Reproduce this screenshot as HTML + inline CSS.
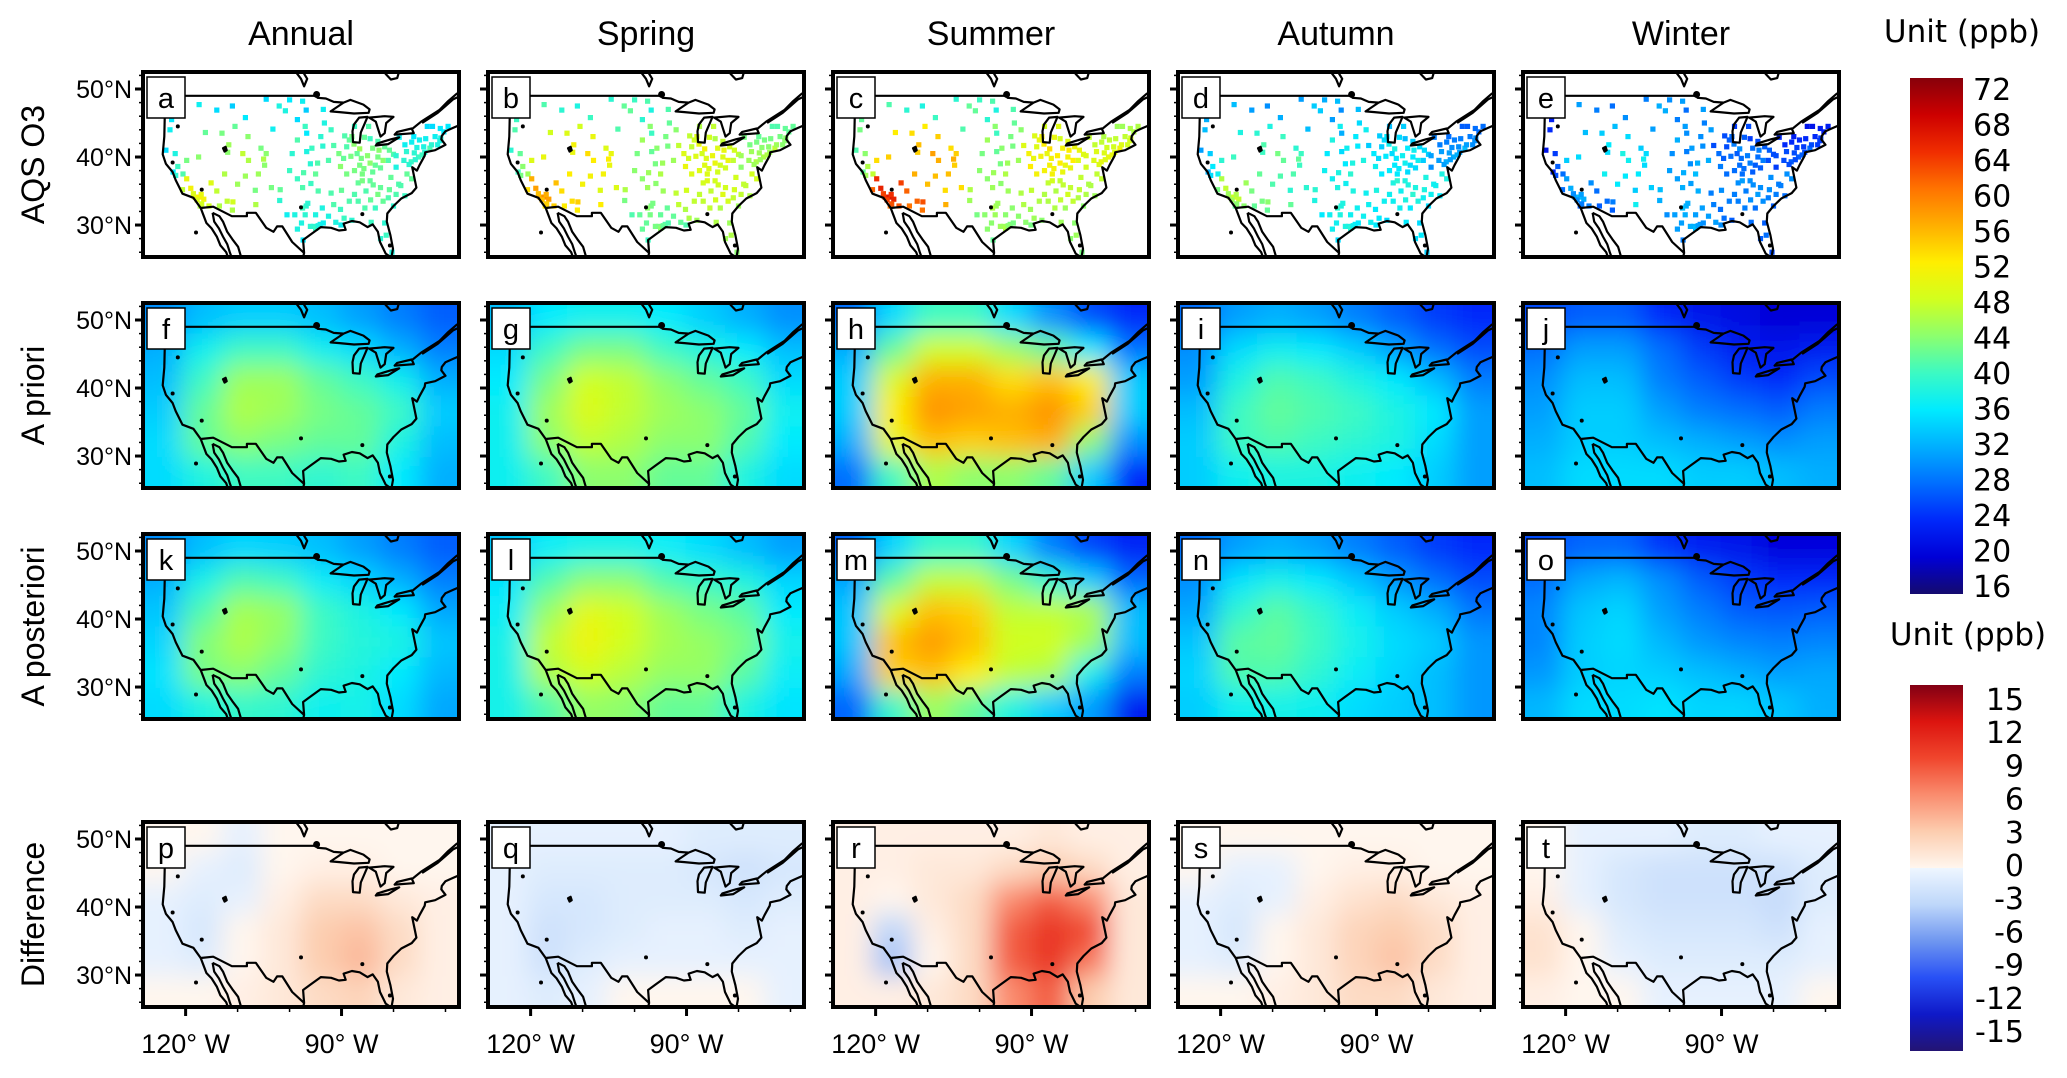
<!DOCTYPE html>
<html><head><meta charset="utf-8"><title>O3 seasonal maps</title>
<style>
html,body{margin:0;padding:0;background:#fff;}
body{width:2067px;height:1073px;overflow:hidden;font-family:"Liberation Sans",Arial,sans-serif;}
svg text{font-family:"Liberation Sans",Arial,sans-serif;fill:#000;}
svg text.cb{font-family:"DejaVu Sans","Liberation Sans",sans-serif;}
</style></head>
<body>
<svg id="fig" xmlns="http://www.w3.org/2000/svg" width="2067" height="1073" viewBox="0 0 2067 1073">
<defs>
<filter id="blur" x="-20%" y="-20%" width="140%" height="140%"><feGaussianBlur stdDeviation="13"/></filter>
<linearGradient id="jetGrad" x1="0" y1="1" x2="0" y2="0"></linearGradient>
<linearGradient id="diffGrad" x1="0" y1="1" x2="0" y2="0"></linearGradient>
</defs>
<g id="panels"></g>
<g id="legend"></g>
</svg>
<script>
// ---------- data ----------
const seasons = ["Annual","Spring","Summer","Autumn","Winter"];
const rowTitles = ["AQS O3","A priori","A posteriori","Difference"];
const panelLetters = [["a","b","c","d","e"],["f","g","h","i","j"],["k","l","m","n","o"],["p","q","r","s","t"]];
const latTicks = [50,40,30];
const lonTicks = [-120,-90];
const lonTickLabels = ["120° W","90° W"];
const jetTicks = [72,68,64,60,56,52,48,44,40,36,32,28,24,20,16];
const diffTicks = [15,12,9,6,3,0,-3,-6,-9,-12,-15];

// a priori fields (ppb), 6 lat bands (north->south) x 8 lon bands (west->east)
const priorAnnual = [
 [30,33,34,34,33,31,29,27],
 [32,37,40,40,37,35,32,29],
 [33,40,45,45,42,40,37,32],
 [34,42,46,45,43,42,40,34],
 [35,42,44,43,42,42,38,33],
 [35,38,40,40,39,40,36,32]];
const priorSpring = [
 [33,36,37,37,36,34,32,30],
 [35,40,43,43,40,38,36,33],
 [36,43,48,47,44,42,40,35],
 [37,45,49,47,45,44,42,37],
 [37,44,47,46,44,44,41,36],
 [37,40,44,44,42,42,38,35]];
const priorSummer = [
 [28,35,40,40,35,30,26,24],
 [32,42,48,48,45,42,36,28],
 [34,49,56,56,53,55,52,34],
 [34,52,58,57,56,58,54,34],
 [32,50,55,54,55,56,44,30],
 [28,40,46,44,44,42,34,24]];
const priorAutumn = [
 [28,31,32,31,29,27,25,24],
 [30,35,37,36,34,31,28,26],
 [31,38,41,40,38,36,33,29],
 [33,40,42,41,40,38,36,31],
 [34,40,41,40,39,38,35,31],
 [34,37,38,38,37,36,34,31]];
const priorWinter = [
 [26,27,27,24,22,21,20,20],
 [28,31,31,28,25,23,22,23],
 [30,33,33,29,27,25,24,26],
 [31,34,34,31,29,28,27,29],
 [32,34,34,33,32,31,30,31],
 [33,35,35,35,34,34,33,32]];

// difference = prior minus posterior (ppb)
const diffAnnual = [
 [0,0,-0.5,0,0,0,0,0],
 [0,-0.5,-1,0,0.5,0.5,0,0],
 [-0.5,-1,-0.5,0.5,2,2,1,0.5],
 [-0.5,-1.5,0,1,3,3.5,2,0.5],
 [-0.5,-1,0,1,3,4,2,0.5],
 [0,0,0.5,1,2,2.5,1,0.5]];
const diffSpring = [
 [-0.5,-0.5,-0.5,-0.5,-0.5,-1,-1,-1],
 [-0.5,-1,-1,-1,-1,-1.5,-2,-1.5],
 [-0.5,-1.5,-1.5,-1,-1,-1,-1.5,-1],
 [-0.5,-2,-1.5,-1,-0.5,-0.5,-1,-0.5],
 [-0.5,-2,-1,-0.5,-0.5,-0.5,-0.5,-0.5],
 [-0.5,-1,-0.5,0,0,0,0,-0.5]];
const diffSummer = [
 [0.5,0.5,0.5,0.5,0.5,1,0.5,0.5],
 [0.5,0.5,1,1,2,3,2,0.5],
 [0.5,0,1,2,6,8,6,1],
 [0.5,-3,0.5,2,8,10,9,1],
 [0.5,-4,0,2,8,10,7,1],
 [0.5,0.5,1,2,6,8,3,1]];
const diffAutumn = [
 [0,0,0,0,0,0,0,0],
 [0,-0.5,-0.5,0,0.5,0.5,0,0],
 [-0.5,-1,-0.5,0.5,1.5,2,1,0.5],
 [-0.5,-1.5,0,1,2.5,3,2,0.5],
 [-0.5,-1,0,1,2.5,3.5,2,0.5],
 [0,0,0.5,1,2,2,1,0.5]];
const diffWinter = [
 [0,-0.5,-0.5,-0.5,-1,-1,-0.5,-0.5],
 [0,-0.5,-1.5,-2,-2,-2,-2,-1],
 [0.5,-0.5,-1.5,-2,-2,-2,-2.5,-1],
 [1.5,0,-1,-1.5,-1.5,-1.5,-2,-0.5],
 [1.5,0,-0.5,-1,-1,-1,-1,-0.5],
 [0.5,0,0,-0.5,-0.5,-0.5,-0.5,0]];

// AQS site regional means per season [Annual,Spring,Summer,Autumn,Winter]
const regionMeans = [
 [36,40,40,32,30],
 [38,42,44,34,25],
 [48,54,62,44,29],
 [44,50,54,40,35],
 [40,44,44,37,31],
 [42,48,50,35,27],
 [38,44,48,30,25],
 [41,47,46,37,29],
 [38,42,44,37,31]];
// sites: [lon, lat, offset]
const sitesNorth = [[-117.4,47.7,1],[-114,46.9,-1],[-108.5,45.8,0],[-100.8,46.8,2],[-96.8,46.9,-2],[-103.2,44.1,1],[-96.7,43.5,0],[-104.5,48.5,-1],[-97.5,48.2,1],[-100,48.4,0],[-111,47.5,-2],[-93.5,47,1],[-98.5,45.5,-1],[-102,47.5,2]];
const sitesCoast = [[-122.3,47.5,-3],[-122.7,45.5,-2],[-123,44,-1],[-122.4,37.8,-2],[-121.9,37.3,1],[-121.5,38.6,2],[-123.8,41,-3],[-122,40.5,0],[-120.5,37.5,3]];
const sitesSW = [[-118.2,34.1,2],[-117.4,34.1,4],[-117.2,32.8,-2],[-116.5,33.8,3],[-119,35.4,3],[-118.5,34.6,1],[-117,34.5,2],[-115.5,32.8,0],[-112,33.5,-1],[-111,32.2,-2],[-110.9,33.4,0],[-114,35,-1],[-115.1,36.2,1],[-119.8,36.8,2],[-117.8,33.7,1],[-116.9,33.1,0],[-120.6,35.2,-1],[-113.5,32.8,-2]];
const sitesMountain = [[-111.9,40.7,0],[-111.7,41.8,1],[-105,39.7,2],[-104.8,38.8,0],[-106.6,35.1,-1],[-108.5,37.2,1],[-107.9,39.5,2],[-105.5,41.3,-1],[-108,43,0],[-110.5,44.5,-2],[-113,43.5,-1],[-116.2,43.6,-2],[-117.5,40,0],[-119.8,39.5,-1],[-109,40.5,3],[-106,37.5,1],[-112.5,37.5,2],[-110,36,1],[-104.5,40.5,0],[-106.5,33,2],[-103.5,35.5,-1]];
const sitesPlains = [[-97.5,35.5,1],[-95.9,36.1,0],[-97.3,37.7,1],[-96,39,-1],[-95.7,41.3,0],[-96.7,40.8,-2],[-98.5,42.5,1],[-101.8,35.2,2],[-100,38,0],[-94.6,39.1,1],[-93.6,41.6,-1],[-93.3,45,-2],[-92,44,0],[-94,43,-1],[-95,37.5,2],[-98.5,36.8,0],[-94.5,35,1],[-99.5,40.5,-1],[-97,44.5,0],[-92.5,39.5,1]];
const sitesMidwest = [[-87.6,41.9,2],[-88,43,1],[-89.4,43.1,-1],[-86.2,39.8,1],[-84.5,39.1,2],[-83,40,1],[-81.7,41.5,0],[-80,40.4,-1],[-85.7,38.3,1],[-90.2,38.6,2],[-89.6,39.8,0],[-83,42.3,-1],[-85.6,42.9,0],[-87.5,38,1],[-84.5,42.7,-2],[-82.5,38.4,0],[-88.2,40.1,1],[-91.5,41.7,-1],[-86.5,41.2,3],[-84,41.3,1],[-82,39.5,2],[-80.8,41,0],[-87,40.5,0],[-85,40.2,2],[-89,41.5,-1],[-90.5,40.5,1],[-83.5,38.8,0],[-86,37.5,1],[-88.5,42.5,0],[-81,39.5,-1],[-84,37.8,0],[-89,37.5,1],[-87.5,44.5,-2],[-84.8,44.5,-1],[-82.8,41,2],[-86.5,38.8,1]];
const sitesNE = [[-75.2,40,2],[-74,40.7,1],[-73,41.3,3],[-71.1,42.4,0],[-72.7,41.8,1],[-76.6,39.3,2],[-77,38.9,1],[-78.9,42.9,-1],[-76.1,43,-2],[-73.8,42.7,-1],[-70.3,43.7,-2],[-72.5,44.5,-3],[-75.5,41.4,0],[-77.5,40.8,1],[-79.5,38.5,0],[-69.5,44.5,-2],[-74.5,40.3,2],[-75.8,39.6,1],[-71.5,41.8,0],[-72,43,-1],[-76.5,42.2,-1],[-78,39.5,1],[-74.2,41.5,0],[-79.5,40.2,1],[-77.8,41.8,-1],[-71,44.2,-2],[-73.5,44.5,-3],[-76,40.6,1],[-75,42.5,-1],[-70.9,42.8,0]];
const sitesSE = [[-84.4,33.7,1],[-86.8,33.5,0],[-90.2,32.3,-1],[-86.8,36.2,1],[-85.3,35,0],[-83.9,35.9,1],[-80.8,35.2,1],[-78.6,35.8,0],[-77.4,37.5,1],[-81,34,0],[-80,32.8,-2],[-81.7,30.3,-2],[-82.5,28,-2],[-80.3,26,-3],[-84.3,30.4,-1],[-88,30.7,-2],[-92,34.7,0],[-90,35.1,1],[-81.4,28.5,-1],[-79,36,0],[-87.5,34.5,0],[-82.5,35.5,1],[-85.5,32.5,0],[-83.5,32.5,-1],[-80.5,37,1],[-79.5,34.5,0],[-82,33.5,1],[-88.5,33.5,0],[-89.5,31,-1],[-91.5,33,0],[-77.8,34.3,-1],[-76.5,36.8,1],[-86,36.5,2],[-84.5,36.5,1],[-83,34.5,2]];
const sitesTexas = [[-95.4,29.8,1],[-96.8,32.8,1],[-97.7,30.3,0],[-98.5,29.4,0],[-94.1,30.1,-1],[-101.9,33.6,1],[-97.4,27.8,-2],[-93.7,32.5,0],[-91.1,30.4,0],[-90.1,30,-1],[-95,31.5,0],[-97,31.5,1],[-99,31.5,0],[-95,29.5,2],[-96,29.8,1],[-94.5,29.9,0],[-97.5,32.5,2],[-96.5,33.2,1],[-93.5,30.3,-1],[-92.5,31.3,0],[-100.5,31.5,-1]];
const siteGroups = [sitesNorth,sitesCoast,sitesSW,sitesMountain,sitesPlains,sitesMidwest,sitesNE,sitesSE,sitesTexas];

// ---------- geometry ----------
const SVGNS = "http://www.w3.org/2000/svg";
const colX = [143,488,833,1178,1523];
const rowY = [72,303,534,822];
const PW = 316, PH = 185;
const lonMin = -128.2, lonMax = -67.4, latMax = 52.5, latMin = 25.3;
function xs(lon){ return (lon-lonMin)/(lonMax-lonMin)*PW; }
function ys(lat){ return (latMax-lat)/(latMax-latMin)*PH; }

const usCoast = [[-124.7,48.4],[-124.0,46.2],[-124.1,43.0],[-124.4,40.4],[-123.8,39.0],[-122.5,37.8],[-121.9,36.6],[-120.6,34.6],[-118.5,34.0],[-117.1,32.5],[-114.7,32.7],[-111.1,31.3],[-108.2,31.3],[-108.2,31.8],[-106.5,31.8],[-104.5,29.6],[-103.1,29.0],[-102.4,29.8],[-101.4,29.8],[-99.5,27.5],[-97.2,25.9],[-97.4,27.8],[-96.0,28.6],[-94.0,29.7],[-92.0,29.6],[-90.5,29.2],[-89.2,29.3],[-89.6,30.2],[-88.0,30.6],[-86.5,30.4],[-85.0,29.7],[-84.0,30.1],[-83.0,29.0],[-82.6,27.5],[-81.5,25.8],[-80.4,25.2],[-80.1,26.5],[-80.6,28.5],[-81.3,30.5],[-81.2,31.7],[-80.0,32.8],[-78.5,33.9],[-76.5,34.7],[-75.6,35.5],[-76.0,37.0],[-76.4,38.5],[-75.5,38.0],[-75.0,38.8],[-74.0,40.2],[-73.9,40.7],[-72.0,41.0],[-70.5,41.6],[-70.0,41.8],[-70.8,42.6],[-70.7,43.1],[-70.0,43.8],[-68.5,44.3],[-67.0,44.8],[-66.5,45]];
const canadaBorder = [[-124.7,49],[-95.2,49]];
const borderLakes = [[-95.2,49],[-94.8,49.3],[-94.6,48.7],[-93,48.6],[-91.5,48.1],[-89.6,48.0]];
const superior = [[-92.1,46.7],[-90.4,46.6],[-87.6,46.4],[-84.8,46.5],[-84.6,47.0],[-85.8,47.7],[-88.3,48.4],[-89.6,48.0],[-92.1,46.7]];
const michigan = [[-87.8,42.2],[-87.9,43.8],[-87.6,44.8],[-86.6,45.8],[-85.0,45.9],[-85.5,45.0],[-86.3,43.6],[-86.5,42.1],[-87.8,42.2]];
const huron = [[-84.7,45.8],[-83.4,45.2],[-82.5,43.0],[-81.7,43.5],[-81.4,45.0],[-80.0,45.9],[-81.7,46.0],[-84.7,45.8]];
const erie = [[-83.4,41.7],[-81.0,41.9],[-78.9,42.9],[-80.5,42.6],[-83.1,42.0],[-83.4,41.7]];
const ontario = [[-79.8,43.3],[-76.1,43.5],[-76.5,44.2],[-79.3,43.7],[-79.8,43.3]];
const stLawrenceN = [[-76.3,44.2],[-74.7,45.2],[-71.2,46.9],[-69.5,48.2],[-68,49.2],[-66.5,50]];
const stLawrenceS = [[-74.5,45.0],[-71.5,46.5],[-70,47.5],[-68.5,48.5],[-66.5,49.2]];
const winnipeg = [[-97.2,50.4],[-96.6,51.5],[-97.5,52.6],[-98.5,53.2],[-98.9,52.6],[-97.8,51.5],[-97.2,50.4]];
const jamesBay = [[-82.5,53.2],[-81.5,52.2],[-80.5,51.4],[-79.3,51.6],[-78.9,52.6],[-79.5,53.2]];
const bajaW = [[-117.1,32.5],[-116.6,31.5],[-116.0,30.3],[-115.0,29.5],[-114.0,28.3],[-113.3,27.0],[-112.2,26.0],[-111.5,24.5]];
const bajaE = [[-114.8,31.8],[-114.5,30.5],[-113.6,29.5],[-112.8,28.3],[-112.0,27.2],[-111.5,26.0],[-110.8,24.5]];
const mainlandMx = [[-114.8,31.8],[-113.5,31.3],[-112.8,30.5],[-112.0,29.0],[-111.0,27.9],[-109.9,26.8],[-109.4,25.5],[-108.8,24.5]];
const mxGulf = [[-97.2,25.9],[-97.6,24.5]];
const saltLake = [[-112.8,41.3],[-112.3,41.5],[-112.1,41.0],[-112.5,40.8],[-112.8,41.3]];
const lakeDots = [[-122.5,39.2],[-116.9,35.2],[-97.8,32.6],[-86.0,31.6],[-121.5,44.5],[-118,28.9],[-80.7,27.0]];
const lines = [usCoast,canadaBorder,borderLakes,stLawrenceN,stLawrenceS,jamesBay,bajaW,bajaE,mainlandMx,mxGulf];
const polys = [superior,michigan,huron,erie,ontario,winnipeg];

// ---------- colour maps ----------
const jetStops = [[16,[20,10,110]],[20,[0,0,215]],[24,[0,40,250]],[28,[0,110,255]],[32,[0,175,255]],[36,[0,235,255]],[40,[60,250,195]],[44,[140,255,110]],[48,[210,255,30]],[52,[255,238,0]],[56,[255,175,0]],[60,[255,115,0]],[64,[240,45,0]],[68,[205,0,0]],[72,[135,0,10]]];
const diffStops = [[-15,[35,20,115]],[-12,[15,25,200]],[-9,[40,80,245]],[-6,[110,150,240]],[-3,[190,215,250]],[-0.01,[238,246,255]],[0,[255,246,238]],[3,[252,205,175]],[6,[250,140,110]],[9,[240,70,45]],[12,[220,20,15]],[15,[130,0,20]]];
function cmap(stops,v){
  if(v<=stops[0][0]) return rgb(stops[0][1]);
  for(let i=1;i<stops.length;i++){
    if(v<=stops[i][0]){
      const a=stops[i-1], b=stops[i], t=(v-a[0])/(b[0]-a[0]);
      return rgb(a[1].map((c,k)=>Math.round(c+(b[1][k]-c)*t)));
    }
  }
  return rgb(stops[stops.length-1][1]);
}
function rgb(c){ return "rgb("+c[0]+","+c[1]+","+c[2]+")"; }

function el(tag, attrs, parent){
  const e=document.createElementNS(SVGNS,tag);
  for(const k in attrs) e.setAttribute(k,attrs[k]);
  if(parent) parent.appendChild(e);
  return e;
}

const root=document.getElementById("panels");
const priors=[priorAnnual,priorSpring,priorSummer,priorAutumn,priorWinter];
const diffs=[diffAnnual,diffSpring,diffSummer,diffAutumn,diffWinter];

function drawField(g, grid, stops, pid){
  const nr=grid.length, nc=grid[0].length, cw=PW/nc, ch=PH/nr, pad=30;
  const fg=el("g",{filter:"url(#blur)"},g);
  
  
  for(let r=0;r<nr;r++) for(let c=0;c<nc;c++){
    let x=c*cw, y=r*ch, w=cw+0.6, h=ch+0.6;
    if(c===0){x-=pad; w+=pad;} if(c===nc-1){w+=pad;}
    if(r===0){y-=pad; h+=pad;} if(r===nr-1){h+=pad;}
    const cell=el("rect",{x:x,y:y,width:w,height:h,fill:cmap(stops,grid[r][c])},fg);
    
    
  }
}

function drawSites(g, season, pid){
  const sg=el("g",{},g);
  
  
  siteGroups.forEach((grp,ri)=>{
    grp.forEach(s=>{
      const v=regionMeans[ri][season]+s[2];
      const sq=el("rect",{x:(xs(s[0])-2.6).toFixed(1),y:(ys(s[1])-2.6).toFixed(1),width:5.2,height:5.2,fill:cmap(jetStops,v)},sg);
      
      
    });
  });
}

function pts(arr){ return arr.map(p=>xs(p[0]).toFixed(1)+","+ys(p[1]).toFixed(1)).join(" "); }
function drawMap(g){
  const mg=el("g",{fill:"none",stroke:"#000","stroke-width":2.2,"stroke-linejoin":"round"},g);
  
  
  lines.forEach(l=>el("polyline",{points:pts(l)},mg));
  polys.forEach(l=>el("polygon",{points:pts(l)},mg));
  el("polygon",{points:pts(saltLake),fill:"#000"},mg);
  lakeDots.forEach(d=>el("circle",{cx:xs(d[0]),cy:ys(d[1]),r:2,fill:"#000",stroke:"none"},mg));
  el("circle",{cx:xs(-94.8),cy:ys(49.2),r:3.5,fill:"#000",stroke:"none"},mg);
}

for(let r=0;r<4;r++){
  for(let c=0;c<5;c++){
    const pid=panelLetters[r][c];
    const g=el("g",{transform:"translate("+colX[c]+","+rowY[r]+")"},root);
    
    
    el("clipPath",{id:"clip"+pid},g).appendChild(el("rect",{x:0,y:0,width:PW,height:PH}));
    const inner=el("g",{"clip-path":"url(#clip"+pid+")"},g);
    el("rect",{x:0,y:0,width:PW,height:PH,fill:"#fff"},inner);
    if(r===0) drawSites(inner,c,pid);
    else if(r===1) drawField(inner,priors[c],jetStops,pid);
    else if(r===2) drawField(inner,priors[c].map((row,i)=>row.map((v,j)=>v-diffs[c][i][j])),jetStops,pid);
    else drawField(inner,diffs[c],diffStops,pid);
    drawMap(inner);
    const frame=el("rect",{x:0,y:0,width:PW,height:PH,fill:"none",stroke:"#000","stroke-width":4},g);
    
    
    const box=el("rect",{x:4,y:5,width:38,height:41,fill:"#fff",stroke:"#000","stroke-width":1.5},g);
    
    
    const lt=el("text",{x:23,y:36,"font-size":29,"text-anchor":"middle"},g);
    lt.textContent=pid;
    
    
    const tg=el("g",{stroke:"#000","stroke-width":1.5},g);
    for(let lat=26;lat<=52;lat+=2){
      const major=latTicks.indexOf(lat)>=0;
      el("line",{x1:major?-8:-4,x2:0,y1:ys(lat),y2:ys(lat),"stroke-width":major?3:1.5},tg);
    }
    if(c===0){
      latTicks.forEach(lat=>{
        const t=el("text",{x:-11,y:ys(lat)+9,"font-size":25,"text-anchor":"end"},g);
        t.textContent=lat+"°N";
        
        
      });
    }
    if(r===3){
      for(let lon=-120;lon<=-70;lon+=10){
        const major=lonTicks.indexOf(lon)>=0;
        el("line",{x1:xs(lon),x2:xs(lon),y1:PH,y2:PH+(major?9:5),"stroke-width":major?3:1.5},tg);
      }
      lonTicks.forEach((lon,i)=>{
        const t=el("text",{x:xs(lon),y:231,"font-size":27,"text-anchor":"middle"},g);
        t.textContent=lonTickLabels[i];
        
        
      });
    }
  }
}
seasons.forEach((s,c)=>{
  const t=el("text",{x:colX[c]+PW/2,y:45,"font-size":34,"text-anchor":"middle"},root);
  t.textContent=s;
  
  
});
rowTitles.forEach((s,r)=>{
  const cy=rowY[r]+PH/2;
  const t=el("text",{x:0,y:0,"font-size":32,"text-anchor":"middle",transform:"translate(44,"+cy+") rotate(-90)"},root);
  t.textContent=s;
  
  
});

// ---------- colorbars ----------
const leg=document.getElementById("legend");
const jg=document.getElementById("jetGrad");
jetStops.forEach(s=>el("stop",{offset:((s[0]-16)/56*100)+"%","stop-color":rgb(s[1])},jg));
const dg=document.getElementById("diffGrad");
diffStops.forEach(s=>el("stop",{offset:((s[0]+15)/30*100)+"%","stop-color":rgb(s[1])},dg));
const cb1={x:1910,y:78,w:53,h:516};
const cb2={x:1910,y:685,w:53,h:366};
const r1=el("rect",{x:cb1.x,y:cb1.y,width:cb1.w,height:cb1.h,fill:"url(#jetGrad)"},leg);


const r2=el("rect",{x:cb2.x,y:cb2.y,width:cb2.w,height:cb2.h,fill:"url(#diffGrad)"},leg);


[[31,1962],[634,1968]].forEach(yy=>{
  const t=el("text",{x:yy[1],y:yy[0]+11,"font-size":31,"text-anchor":"middle","class":"cb"},leg);
  t.textContent="Unit (ppb)";
  
  
});
jetTicks.forEach(v=>{
  const yy=586-(v-16)/56*(586-89);
  const t=el("text",{x:1973,y:yy+11,"font-size":30,"class":"cb"},leg);
  t.textContent=v;
  
  
});
diffTicks.forEach(v=>{
  const yy=1031-(v+15)/30*(1031-699);
  const t=el("text",{x:2024,y:yy+11,"font-size":30,"text-anchor":"end","class":"cb"},leg);
  t.textContent=v;
  
  
});
</script>
</body></html>
